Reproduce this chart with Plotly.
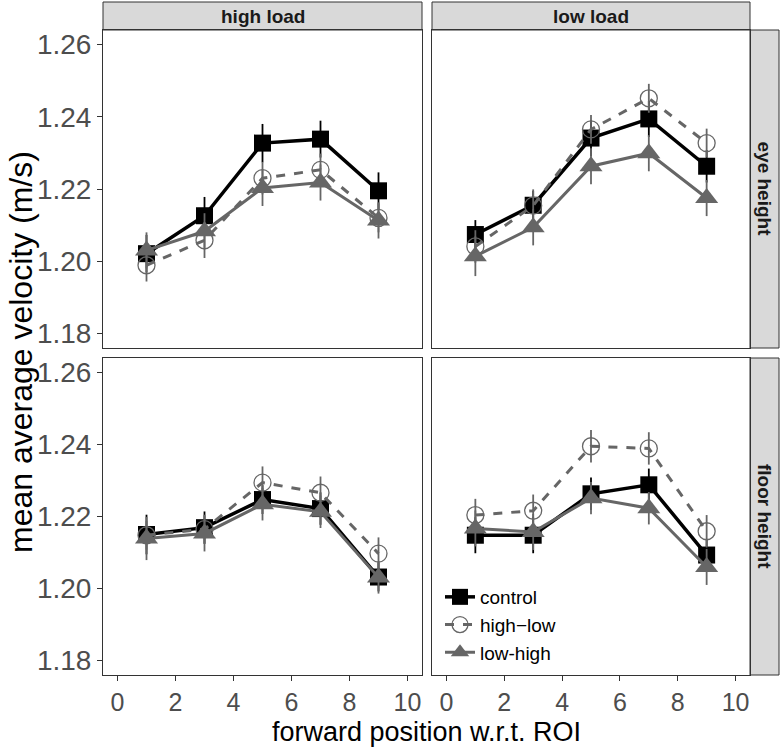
import plotly.graph_objects as go

# forward positions (same for every panel)
pos = [1, 3, 5, 7, 9]

# panels: (load, height)
loads = ["high load", "low load"]
heights = ["eye height", "floor height"]

# mean average velocity per panel, order: high/eye, low/eye, high/floor, low/floor
control = [
    [1.2021, 1.2126, 1.2327, 1.2338, 1.2195],
    [1.2074, 1.2155, 1.2341, 1.2394, 1.2263],
    [1.2150, 1.2169, 1.2247, 1.2222, 1.2032],
    [1.2148, 1.2148, 1.2263, 1.2288, 1.2093],
]
high_low = [
    [1.1989, 1.2058, 1.2230, 1.2253, 1.2120],
    [1.2041, 1.2154, 1.2365, 1.2451, 1.2327],
    [1.2148, 1.2165, 1.2294, 1.2266, 1.2097],
    [1.2204, 1.2216, 1.2395, 1.2389, 1.2159],
]
low_high = [
    [1.2030, 1.2083, 1.2203, 1.2218, 1.2113],
    [1.2014, 1.2094, 1.2263, 1.2299, 1.2175],
    [1.2139, 1.2153, 1.2234, 1.2213, 1.2031],
    [1.2167, 1.2157, 1.2251, 1.2223, 1.2060],
]
# error bar half-widths
err_control = [
    [0.0052, 0.0052, 0.0053, 0.0051, 0.0051],
    [0.0040, 0.0040, 0.0050, 0.0050, 0.0045],
    [0.0055, 0.0045, 0.0040, 0.0045, 0.0040],
    [0.0050, 0.0050, 0.0045, 0.0045, 0.0045],
]
err_high_low = [
    [0.0045, 0.0049, 0.0045, 0.0045, 0.0040],
    [0.0045, 0.0045, 0.0040, 0.0040, 0.0040],
    [0.0040, 0.0040, 0.0045, 0.0045, 0.0045],
    [0.0045, 0.0045, 0.0045, 0.0045, 0.0045],
]
err_low_high = [
    [0.0050, 0.0050, 0.0050, 0.0050, 0.0050],
    [0.0055, 0.0050, 0.0050, 0.0050, 0.0050],
    [0.0060, 0.0050, 0.0045, 0.0045, 0.0045],
    [0.0050, 0.0050, 0.0045, 0.0045, 0.0050],
]

W, H = 782, 747


def px(x):
    return x / W


def py(y):
    return 1 - y / H


GREY = "#666666"
EDGE = "#333333"

series = [
    ("control", control, err_control, dict(color="black", width=3.5, dash="solid"),
     dict(symbol="square", size=17, color="black")),
    ("high\u2212low", high_low, err_high_low, dict(color=GREY, width=3, dash="dash"),
     dict(symbol="circle-open", size=17, color=GREY, line=dict(width=1.3, color=GREY))),
    ("low-high", low_high, err_low_high, dict(color=GREY, width=3, dash="solid"),
     dict(symbol="triangle-up", size=20, color=GREY)),
]

fig = go.Figure()
for p in range(4):
    suffix = "" if p == 0 else str(p + 1)
    for name, vals, errs, line, marker in series:
        fig.add_trace(go.Scatter(
            x=pos, y=vals[p], name=name, mode="lines+markers",
            line=line, marker=marker,
            error_y=dict(type="data", array=errs[p], visible=True, width=0,
                         thickness=1.8, color=line["color"]),
            xaxis="x" + suffix, yaxis="y" + suffix,
            showlegend=(p == 0),
        ))

xd = {"L": [px(103), px(422)], "R": [px(432), px(750)]}
yd = {"T": [py(348), py(30)], "B": [py(675), py(358)]}
ytickfont = dict(family="Liberation Sans, Arial", size=28, color="#4d4d4d")
xtickfont = dict(family="Liberation Sans, Arial", size=25, color="#4d4d4d")

layout = dict(
    template="none",
    width=W, height=H, margin=dict(l=0, r=0, t=0, b=0, autoexpand=False),
    paper_bgcolor="white", plot_bgcolor="white",
    font=dict(family="Liberation Sans, Arial", color="black"),
    legend=dict(x=px(440), y=py(578), xanchor="left", yanchor="top",
                bgcolor="rgba(0,0,0,0)", font=dict(size=19, color="black"),
                itemwidth=30, tracegroupgap=0),
)
panel_pos = [("L", "T"), ("R", "T"), ("L", "B"), ("R", "B")]
for p, (c, r) in enumerate(panel_pos):
    suffix = "" if p == 0 else str(p + 1)
    layout["xaxis" + suffix] = dict(
        domain=xd[c], anchor="y" + suffix, range=[-0.5, 10.5], automargin=False,
        tickvals=[0, 2, 4, 6, 8, 10], showgrid=False, zeroline=False,
        showline=True, mirror=True, linecolor=EDGE, linewidth=1,
        ticks="outside" if r == "B" else "", ticklen=5, tickcolor=EDGE,
        showticklabels=(r == "B"), tickfont=xtickfont,
    )
    layout["yaxis" + suffix] = dict(
        domain=yd[r], anchor="x" + suffix, range=[1.176, 1.264], automargin=False,
        tickvals=[1.18, 1.20, 1.22, 1.24, 1.26], tickformat=".2f",
        showgrid=False, zeroline=False,
        showline=True, mirror=True, linecolor=EDGE, linewidth=1,
        ticks="outside" if c == "L" else "", ticklen=5, tickcolor=EDGE,
        showticklabels=(c == "L"), tickfont=ytickfont,
    )

shapes = []
annotations = []
# top strips
for c, lab in zip(["L", "R"], loads):
    shapes.append(dict(type="rect", xref="paper", yref="paper",
                       x0=xd[c][0], x1=xd[c][1], y0=py(30), y1=py(2),
                       fillcolor="#d9d9d9", line=dict(color=EDGE, width=1), layer="below"))
    annotations.append(dict(text="<b>" + lab + "</b>", xref="paper", yref="paper",
                            x=sum(xd[c]) / 2, y=py(16), showarrow=False,
                            xanchor="center", yanchor="middle",
                            font=dict(size=19, color="#1a1a1a")))
# right strips
for r, lab in zip(["T", "B"], heights):
    shapes.append(dict(type="rect", xref="paper", yref="paper",
                       x0=px(750), x1=px(779), y0=yd[r][0], y1=yd[r][1],
                       fillcolor="#d9d9d9", line=dict(color=EDGE, width=1), layer="below"))
    annotations.append(dict(text="<b>" + lab + "</b>", xref="paper", yref="paper",
                            x=px(764.5), y=sum(yd[r]) / 2, showarrow=False, textangle=90,
                            xanchor="center", yanchor="middle",
                            font=dict(size=19, color="#1a1a1a")))
# axis titles
annotations.append(dict(text="mean average velocity (m/s)", xref="paper", yref="paper",
                        x=px(21), y=py(352), showarrow=False, textangle=-90,
                        xanchor="center", yanchor="middle",
                        font=dict(size=32, color="black")))
annotations.append(dict(text="forward position w.r.t. ROI", xref="paper", yref="paper",
                        x=px(426), y=py(732), showarrow=False,
                        xanchor="center", yanchor="middle",
                        font=dict(size=27, color="black")))
layout["shapes"] = shapes
layout["annotations"] = annotations

fig.update_layout(**layout)
# drop the browser's default 8px page margin so the figure fills the window
fig.write_html("out.html", config={"displayModeBar": False},
               post_script="document.body.style.margin='0px';")
